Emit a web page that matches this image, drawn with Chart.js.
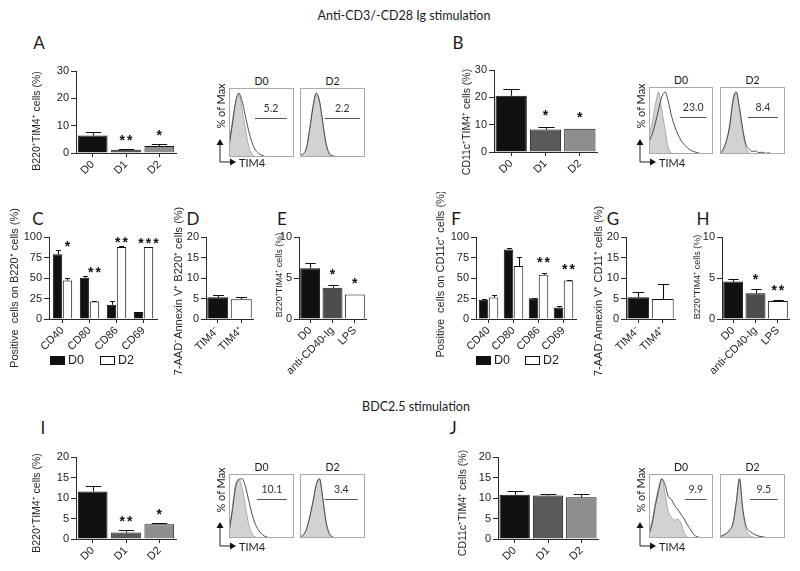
<!DOCTYPE html>
<html><head><meta charset="utf-8">
<script src="https://cdn.jsdelivr.net/npm/chart.js@4.4.1/dist/chart.umd.min.js"></script>
<style>
html,body{margin:0;padding:0;background:#fff;}
body{width:800px;height:571px;overflow:hidden;position:relative;font-family:"Liberation Sans",Arial,sans-serif;}
.wrap{position:absolute;}
.t{position:absolute;white-space:nowrap;color:#1a1a1a;line-height:1;}
.lg{position:absolute;border:1px solid #111;box-sizing:border-box;}
</style></head><body>
<script>
// ---------------- DATA ----------------
const catsDay = ['D0', 'D1', 'D2'];
const catsMarker = ['CD40', 'CD80', 'CD86', 'CD69'];
const catsTim = ['TIM4\u207B', 'TIM4\u207A'];
const catsStim = ['D0', 'anti-CD40-Ig', 'LPS'];
const seriesNames = ['D0', 'D2'];

// A: B220+TIM4+ (anti-CD3/CD28)
const valA = [6.4, 1.2, 2.6];
const errA = [1.3, 0.4, 0.6];
const starsA = ['', '**', '*'];
// B: CD11c+TIM4+
const valB = [20.6, 8.2, 8.5];
const errB = [2.4, 1.1, 0];
const starsB = ['', '*', '*'];
// C: markers on B220+
const valC_D0 = [79, 50.4, 17.3, 8.5];
const errC_D0 = [5.7, 2, 4.7, 0.3];
const valC_D2 = [47, 21.4, 87.9, 87.9];
const errC_D2 = [2.6, 0.4, 0.8, 0.4];
const starsC = ['*', '**', '**', '***'];
// D: 7-AAD- Annexin V+ B220+
const valD = [5.3, 4.8];
const errD = [0.5, 0.5];
// E
const valE = [6.2, 3.8, 3.0];
const errE = [0.6, 0.4, 0];
const starsE = ['', '*', '*'];
// F: markers on CD11c+
const valF_D0 = [23.4, 84.7, 25.4, 14.1];
const errF_D0 = [0.4, 2, 0.4, 1.2];
const valF_D2 = [26.2, 64.5, 54, 46.8];
const errF_D2 = [3.2, 11.3, 1.6, 0.3];
const starsF = ['', '', '**', '**'];
// G
const valG = [5.3, 4.9];
const errG = [1.2, 3.6];
// H
const valH = [4.56, 3.15, 2.2];
const errH = [0.28, 0.45, 0.1];
const starsH = ['', '*', '**'];
// I: BDC2.5 B220+TIM4+
const valI = [11.6, 1.6, 3.6];
const errI = [1.4, 0.6, 0.2];
const starsI = ['', '**', '*'];
// J: BDC2.5 CD11c+TIM4+
const valJ = [10.8, 10.6, 10.2];
const errJ = [1.0, 0.3, 0.8];
const starsJ = ['', '', ''];

// Histograms (TIM4 intensity bins, % of max)
const histBins = [0,0.05,0.1,0.15,0.2,0.25,0.3,0.35,0.4,0.45,0.5,0.55,0.6,0.65,0.7,0.75,0.8,0.85,0.9,0.95,1];
const histA_D0_ctrl = [20,55,85,100,75,45,18,5,1,0,0,0,0,0,0,0,0,0,0,0,0];
const histA_D0_tim  = [15,50,85,100,88,65,42,24,12,6,3,1,0.5,0,0,0,0,0,0,0,0];
const histA_D2_ctrl = [3,5,15,45,80,100,85,50,18,4,1,0,0,0,0,0,0,0,0,0,0];
const histA_D2_tim  = [3,5,14,44,78,100,88,55,22,6,2,1,0,0,0,0,0,0,0,0,0];
const histB_D0_ctrl = [30,50,80,100,70,40,10,2,0,0,0,0,0,0,0,0,0,0,0,0,0];
const histB_D0_tim  = [20,32,50,72,92,100,85,62,45,32,22,15,10,6,4,2,1,0,0,0,0];
const histB_D2_ctrl = [0,5,20,50,90,100,70,35,10,2,0,0,0,0,0,0,0,0,0,0,0];
const histB_D2_tim  = [0,8,22,45,85,100,75,40,15,8,4,5,2,3,1,2,0,0,0,0,0];
const histI_D0_ctrl = [10,50,90,100,85,55,25,8,2,0,0,0,0,0,0,0,0,0,0,0,0];
const histI_D0_tim  = [10,45,85,98,100,88,65,42,25,14,7,3,1,0,0,0,0,0,0,0,0];
const histI_D2_ctrl = [2,5,15,35,60,90,100,65,25,6,1,0,0,0,0,0,0,0,0,0,0];
const histI_D2_tim  = [2,5,15,36,62,90,100,68,28,8,2,0,0,0,0,0,0,0,0,0,0];
const histJ_D0_ctrl = [10,30,60,85,100,75,45,35,30,32,25,8,2,0,0,0,0,0,0,0,0];
const histJ_D0_tim  = [5,25,55,80,100,90,70,65,55,48,40,32,22,14,6,2,1,0,0,0,0];
const histJ_D2_ctrl = [2,4,8,12,25,60,100,45,15,5,2,0,0,0,0,0,0,0,0,0,0];
const histJ_D2_tim  = [2,5,8,14,25,60,100,50,20,12,8,5,3,2,1,0,0,0,0,0,0];
const gatePct = {A_D0: '5.2', A_D2: '2.2', B_D0: '23.0', B_D2: '8.4', I_D0: '10.1', I_D2: '3.4', J_D0: '9.9', J_D2: '9.5'};
const gateRange = {A_D0: [0.4,0.89], A_D2: [0.38,0.92], B_D0: [0.48,0.9], B_D2: [0.43,0.89], I_D0: [0.43,0.89], I_D2: [0.38,0.89], J_D0: [0.56,0.9], J_D2: [0.46,0.89]};

// ---------------- HELPERS ----------------
const AX = '#2a2a2a';
const FONT = '"Liberation Sans", Arial, sans-serif';
const LFONT = 'Lato, "Open Sans", sans-serif';

function txt(s, x, y, size, opt) {
  opt = opt || {};
  const d = document.createElement('div');
  d.className = 't';
  d.textContent = s;
  d.style.left = x + 'px'; d.style.top = y + 'px';
  d.style.fontSize = size + 'px';
  d.style.fontFamily = opt.family || LFONT;
  if (opt.color) d.style.color = opt.color;
  let tr = opt.anchor === 'left' ? 'translate(0,-50%)' : 'translate(-50%,-50%)';
  if (opt.rot) tr += ' rotate(' + opt.rot + 'deg)';
  d.style.transform = tr;
  document.body.appendChild(d);
}

const errPlugin = {
  id: 'errbars',
  afterDatasetsDraw(chart, args, o) {
    const ctx = chart.ctx, y = chart.scales.y;
    const errs = o.err || [];
    ctx.save();
    ctx.strokeStyle = '#111'; ctx.lineWidth = 1.1;
    errs.forEach((arr, di) => {
      const meta = chart.getDatasetMeta(di);
      const vals = chart.data.datasets[di].data;
      meta.data.forEach((bar, i) => {
        const e = arr[i]; if (!e) return;
        const x = Math.round(bar.x) + 0.5;
        const y0 = y.getPixelForValue(vals[i]);
        const y1 = Math.round(y.getPixelForValue(vals[i] + e)) + 0.5;
        const hw = bar.width * 0.26;
        ctx.beginPath();
        ctx.moveTo(x, y0); ctx.lineTo(x, y1);
        ctx.moveTo(x - hw, y1); ctx.lineTo(x + hw, y1);
        ctx.stroke();
      });
    });
    if (o.stars) {
      const di = o.starDataset || 0;
      const meta = chart.getDatasetMeta(di);
      ctx.fillStyle = '#111';
      ctx.font = 'bold 14px ' + FONT;
      ctx.textAlign = 'center'; ctx.textBaseline = 'alphabetic';
      try { ctx.letterSpacing = '2px'; } catch (e) {}
      o.stars.forEach((s, i) => {
        if (!s) return;
        let top = 0;
        chart.data.datasets.forEach((ds, k) => {
          if (o.groupMax || k === di) top = Math.max(top, ds.data[i] + ((errs[k] || [])[i] || 0));
        });
        const cy = y.getPixelForValue(top) - o.starOffset;
        ctx.fillText(s, meta.data[i].x + 1, cy + 8);
      });
    }
    ctx.restore();
  }
};

// rotated y-axis title drawn on the chart canvas
const yTitlePlugin = {
  id: 'ytitle',
  afterDraw(chart, args, o) {
    if (!o.text) return;
    const ctx = chart.ctx;
    ctx.save();
    ctx.translate(o.x, o.y);
    ctx.rotate(-Math.PI / 2);
    ctx.fillStyle = '#262626';
    ctx.font = o.size + 'px ' + FONT;
    ctx.textAlign = 'center'; ctx.textBaseline = 'middle';
    ctx.fillText(o.text, 0, 0);
    ctx.restore();
  }
};

function barChart(cfg) {
  const [pL, pT, pR, pB] = cfg.plot;
  const cL = pL - 45, cT = pT - 45, cR = pR + 16, cB = pB + 72;
  const wrap = document.createElement('div');
  wrap.className = 'wrap';
  wrap.style.cssText = `left:${cL}px;top:${cT}px;width:${cR - cL}px;height:${cB - cT}px;`;
  const cv = document.createElement('canvas');
  wrap.appendChild(cv); document.body.appendChild(wrap);
  const yW = pL - cL, xH = cB - pB;
  new Chart(cv, {
    type: 'bar',
    data: {
      labels: cfg.labels,
      datasets: cfg.datasets.map(d => ({
        label: d.label, data: d.data, backgroundColor: d.colors,
        borderColor: '#111', borderWidth: 1,
        categoryPercentage: cfg.catPct, barPercentage: cfg.barPct
      }))
    },
    options: {
      responsive: true, maintainAspectRatio: false, animation: false,
      events: [],
      layout: { padding: { top: pT - cT, right: cR - pR, left: 0, bottom: 0 } },
      plugins: {
        legend: { display: false }, tooltip: { enabled: false },
        errbars: { err: cfg.err, stars: cfg.stars, starDataset: cfg.starDataset || 0, starOffset: cfg.starOffset || 12, groupMax: !!cfg.groupMax },
        ytitle: { text: cfg.title, x: cfg.titlePos[0] - cL, y: cfg.titlePos[1] - cT, size: cfg.titleSize || 10.5 }
      },
      scales: {
        x: {
          offset: true,
          grid: { display: true, drawOnChartArea: false, drawTicks: true, tickLength: 4, color: AX, offset: false },
          border: { display: true, color: AX, width: 1 },
          ticks: { color: '#222', font: { family: FONT, size: 11 }, minRotation: 45, maxRotation: 45, padding: 1, autoSkip: false },
          afterFit: s => { s.height = xH; s.paddingLeft = 0; s.paddingRight = 0; }
        },
        y: {
          min: 0, max: cfg.ymax,
          grid: { display: true, drawOnChartArea: false, drawTicks: true, tickLength: 5, color: AX },
          border: { display: true, color: AX, width: 1 },
          ticks: { stepSize: cfg.step, color: '#222', font: { family: FONT, size: 11 }, padding: 2 },
          afterFit: s => { s.width = yW; s.paddingTop = 0; s.paddingBottom = 0; }
        }
      }
    },
    plugins: [errPlugin, yTitlePlugin]
  });
}

const histPlugin = {
  id: 'histbox',
  afterDraw(chart, args, o) {
    const { ctx, chartArea: a } = chart;
    const x = chart.scales.x, y = chart.scales.y;
    ctx.save();
    ctx.strokeStyle = '#a9a9a9'; ctx.lineWidth = 1;
    ctx.strokeRect(a.left + 0.5, a.top + 0.5, a.width - 1, a.height - 1);
    const gy = Math.round(y.getPixelForValue(o.level)) + 0.5;
    const gx0 = x.getPixelForValue(o.gate[0]), gx1 = x.getPixelForValue(o.gate[1]);
    ctx.strokeStyle = '#555'; ctx.lineWidth = 1;
    ctx.beginPath(); ctx.moveTo(gx0, gy); ctx.lineTo(gx1, gy); ctx.stroke();
    ctx.fillStyle = '#333'; ctx.font = '10.5px ' + LFONT;
    ctx.textAlign = 'center'; ctx.textBaseline = 'middle';
    ctx.fillText(o.label, (gx0 + gx1) / 2, gy - 10);
    ctx.restore();
  }
};

function hist(box, ctrl, tim, key, level, title) {
  const [L, T, R, B] = box;
  const wrap = document.createElement('div');
  wrap.className = 'wrap';
  wrap.style.cssText = `left:${L}px;top:${T}px;width:${R - L}px;height:${B - T}px;`;
  const cv = document.createElement('canvas');
  wrap.appendChild(cv); document.body.appendChild(wrap);
  const pts = arr => histBins.map((b, i) => ({ x: b, y: arr[i] }));
  new Chart(cv, {
    type: 'line',
    data: {
      datasets: [
        { label: 'TIM4', data: pts(tim), borderColor: '#4a4a4a', borderWidth: 1, fill: false, pointRadius: 0, cubicInterpolationMode: 'monotone' },
        { label: 'control', data: pts(ctrl), borderColor: '#9a9a9a', borderWidth: 0.8, backgroundColor: '#d2d2d2', fill: 'origin', pointRadius: 0, cubicInterpolationMode: 'monotone' }
      ]
    },
    options: {
      responsive: true, maintainAspectRatio: false, animation: false, events: [],
      layout: { padding: 0 },
      plugins: { legend: { display: false }, tooltip: { enabled: false }, histbox: { gate: gateRange[key], label: gatePct[key], level: level } },
      scales: {
        x: { type: 'linear', min: 0, max: 1, display: false },
        y: { min: 0, max: 108, display: false }
      }
    },
    plugins: [histPlugin]
  });
  txt(title, (L + R) / 2, T - 7, 10.5);
}

function axisArrows(x, tipY, baseY, tipX, ctrY) {
  const ns = 'http://www.w3.org/2000/svg';
  const svg = document.createElementNS(ns, 'svg');
  svg.setAttribute('width', 40); svg.setAttribute('height', 40);
  svg.style.cssText = `position:absolute;left:${x - 5}px;top:${tipY - 5}px;overflow:visible;`;
  const ox = 5, oy = 5, h = baseY - tipY, w = tipX - x;
  svg.innerHTML = `<path d="M${ox} ${oy + h} L${ox} ${oy + 4} M${ox} ${oy + h} L${ox + w - 5} ${oy + h}" stroke="#222" stroke-width="1" fill="none"/>
    <path d="M${ox - 3.5} ${oy + 5} L${ox} ${oy - 1} L${ox + 3.5} ${oy + 5} Z" fill="#111"/>
    <path d="M${ox + w - 6} ${oy + h - 3.5} L${ox + w} ${oy + h} L${ox + w - 6} ${oy + h + 3.5} Z" fill="#111"/>`;
  document.body.appendChild(svg);
  txt('TIM4', tipX + 3, baseY, 11, { anchor: 'left' });
  txt('% of Max', x, ctrY, 11, { rot: -90 });
}

function legendItems(x0, y, x1) {
  const boxes = [[x0, '#111'], [x1, '#fff']];
  boxes.forEach(([bx, col], i) => {
    const d = document.createElement('div');
    d.className = 'lg';
    d.style.cssText += `left:${bx}px;top:${y - 4}px;width:15px;height:9px;background:${col};`;
    document.body.appendChild(d);
    txt(seriesNames[i], bx + 18, y, 12.5, { anchor: 'left', family: FONT });
  });
}

// ---------------- TEXT: titles & letters ----------------
txt('Anti-CD3/-CD28 Ig stimulation', 404, 16, 12.5);
txt('BDC2.5 stimulation', 416, 407, 12.5);
[['A', 39, 42], ['B', 458, 42], ['C', 38, 218], ['D', 193, 218], ['E', 282, 218],
 ['F', 456, 218], ['G', 613, 218], ['H', 703, 218], ['I', 43, 427], ['J', 453, 427]]
  .forEach(([s, x, y]) => txt(s, x, y, 17));

// ---------------- BAR CHARTS ----------------
const cDay = ['#111111', '#5a5a5a', '#8e8e8e'];
barChart({ plot: [76, 71, 176, 153], titlePos: [37, 121], titleSize: 10.5, title: 'B220\u207ATIM4\u207A cells (%)', labels: catsDay,
  datasets: [{ label: 'B220+TIM4+', data: valA, colors: cDay }], err: [errA], stars: starsA, starOffset: 12,
  ymax: 30, step: 10, catPct: 0.92, barPct: 0.97 });
barChart({ plot: [494, 70, 597, 152], titlePos: [467, 122], titleSize: 10.5, title: 'CD11c\u207ATIM4\u207A cells (%)', labels: catsDay,
  datasets: [{ label: 'CD11c+TIM4+', data: valB, colors: cDay }], err: [errB], stars: starsB, starOffset: 15,
  ymax: 30, step: 10, catPct: 0.94, barPct: 0.97 });
barChart({ plot: [49, 237, 157, 319], titlePos: [15, 288], titleSize: 11, title: 'Positive  cells on B220\u207A cells (%)', labels: catsMarker,
  datasets: [{ label: seriesNames[0], data: valC_D0, colors: '#111' }, { label: seriesNames[1], data: valC_D2, colors: '#fff' }],
  err: [errC_D0, errC_D2], stars: starsC, starDataset: 1, groupMax: true, starOffset: 7,
  ymax: 100, step: 25, catPct: 0.74, barPct: 0.94 });
barChart({ plot: [206, 237, 253, 319], titlePos: [179, 291], titleSize: 11, title: '7-AAD\u207BAnnexin V\u207A B220\u207A cells (%)', labels: catsTim,
  datasets: [{ label: 'B220+', data: valD, colors: ['#111', '#fff'] }], err: [errD],
  ymax: 20, step: 5, catPct: 0.92, barPct: 0.97 });
barChart({ plot: [299, 237, 366, 319], titlePos: [280, 275], titleSize: 9, title: 'B220\u207ATIM4\u207A cells (%)', labels: catsStim,
  datasets: [{ label: 'B220+TIM4+', data: valE, colors: ['#111', '#4d4d4d', '#fff'] }], err: [errE], stars: starsE, starOffset: 14,
  ymax: 10, step: 5, catPct: 0.92, barPct: 0.97 });
barChart({ plot: [476, 237, 576, 319], titlePos: [441, 274], titleSize: 11, title: 'Positive  cells on CD11c\u207A cells (%)', labels: catsMarker,
  datasets: [{ label: seriesNames[0], data: valF_D0, colors: '#111' }, { label: seriesNames[1], data: valF_D2, colors: '#fff' }],
  err: [errF_D0, errF_D2], stars: starsF, starDataset: 1, groupMax: true, starOffset: 14,
  ymax: 100, step: 25, catPct: 0.8, barPct: 0.95 });
barChart({ plot: [626, 237, 675, 319], titlePos: [599, 291], titleSize: 11, title: '7-AAD\u207BAnnexin V\u207A CD11\u207A cells (%)', labels: catsTim,
  datasets: [{ label: 'CD11+', data: valG, colors: ['#111', '#fff'] }], err: [errG],
  ymax: 20, step: 5, catPct: 0.92, barPct: 0.97 });
barChart({ plot: [722, 237, 789, 319], titlePos: [698, 277], titleSize: 9, title: 'B220\u207ATIM4\u207A cells (%)', labels: catsStim,
  datasets: [{ label: 'B220+TIM4+', data: valH, colors: ['#111', '#4d4d4d', '#fff'] }], err: [errH], stars: starsH, starOffset: 13,
  ymax: 10, step: 5, catPct: 0.92, barPct: 0.97 });
barChart({ plot: [76, 457, 176, 539], titlePos: [37, 503], titleSize: 10.5, title: 'B220\u207ATIM4\u207A cells (%)', labels: catsDay,
  datasets: [{ label: 'B220+TIM4+', data: valI, colors: cDay }], err: [errI], stars: starsI, starOffset: 12,
  ymax: 20, step: 5, catPct: 0.92, barPct: 0.97 });
barChart({ plot: [498, 457, 598, 539], titlePos: [463, 503], titleSize: 10.5, title: 'CD11c\u207ATIM4\u207A cells (%)', labels: catsDay,
  datasets: [{ label: 'CD11c+TIM4+', data: valJ, colors: cDay }], err: [errJ], stars: starsJ,
  ymax: 20, step: 5, catPct: 0.94, barPct: 0.97 });

legendItems(50, 360, 100);
legendItems(476, 360, 525);

// ---------------- HISTOGRAMS ----------------
hist([229, 88, 294, 157], histA_D0_ctrl, histA_D0_tim, 'A_D0', 61, 'D0');
hist([300, 88, 365, 157], histA_D2_ctrl, histA_D2_tim, 'A_D2', 61, 'D2');
hist([649, 87, 713, 154], histB_D0_ctrl, histB_D0_tim, 'B_D0', 60, 'D0');
hist([720, 87, 785, 154], histB_D2_ctrl, histB_D2_tim, 'B_D2', 60, 'D2');
hist([229, 474, 294, 538], histI_D0_ctrl, histI_D0_tim, 'I_D0', 65, 'D0');
hist([300, 474, 365, 538], histI_D2_ctrl, histI_D2_tim, 'I_D2', 65, 'D2');
hist([649, 474, 713, 538], histJ_D0_ctrl, histJ_D0_tim, 'J_D0', 65, 'D0');
hist([720, 474, 785, 538], histJ_D2_ctrl, histJ_D2_tim, 'J_D2', 65, 'D2');

axisArrows(220, 140, 162, 236, 106);
axisArrows(640, 140, 162, 656, 106);
axisArrows(220, 523, 546, 236, 490);
axisArrows(640, 523, 546, 656, 490);
</script>
</body></html>
